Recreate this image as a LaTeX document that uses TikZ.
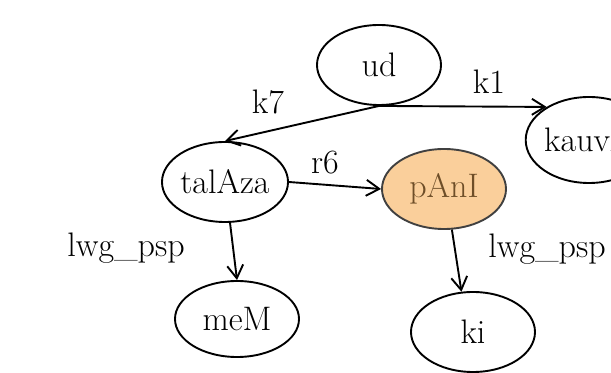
\documentclass[tikz,border=0pt]{standalone}
\usetikzlibrary{shapes.geometric,arrows.meta}
\definecolor{hlfill}{RGB}{250,207,155}
\definecolor{hltext}{RGB}{110,78,40}
\begin{document}
\begin{tikzpicture}[x=0.5pt,y=-0.5pt,
  every node/.style={font=\fontsize{17}{20}\selectfont},
  word/.style={ellipse,draw,line width=0.95pt,minimum width=62pt,minimum height=40pt,inner sep=0pt},
  hot/.style={word,fill=hlfill,draw=black!75,text=hltext},
  link/.style={line width=0.95pt,-{Straight Barb[length=6.5pt,width=8pt]}},
  lab/.style={inner sep=0pt}]
\useasboundingbox (0,0) rectangle (611,373);
% nodes
\node[word] (ud)  at (379,65)  {ud};
\node[word,minimum height=43pt] (kau) at (589,140) {kauvA};
\node[word] (tal) at (225,182) {talAza};
\node[hot]  (pan) at (444,189) {pAnI};
\node[word,minimum height=38pt] (mem) at (237,319) {meM};
\node[word] (ki)  at (473,332) {ki};
% connectors
\draw[link] (ud.south) -- (tal.north);
\draw[link] (ud.south) -- (kau.142);
\draw[link] (tal.east) -- (pan.west);
\draw[link] (tal.-83) -- (mem.north);
\draw[link] (pan.-79) -- (ki.106);
% edge labels
\node[lab] (k7) at (268,102) {k7};
\node[lab] (k1) at (489,82) {k1};
\node[lab] (r6) at (325,163) {r6};
\node[lab] (l1) at (126,248) {lwg\_psp};
\node[lab] (l2) at (547,249) {lwg\_psp};
\end{tikzpicture}
\end{document}
